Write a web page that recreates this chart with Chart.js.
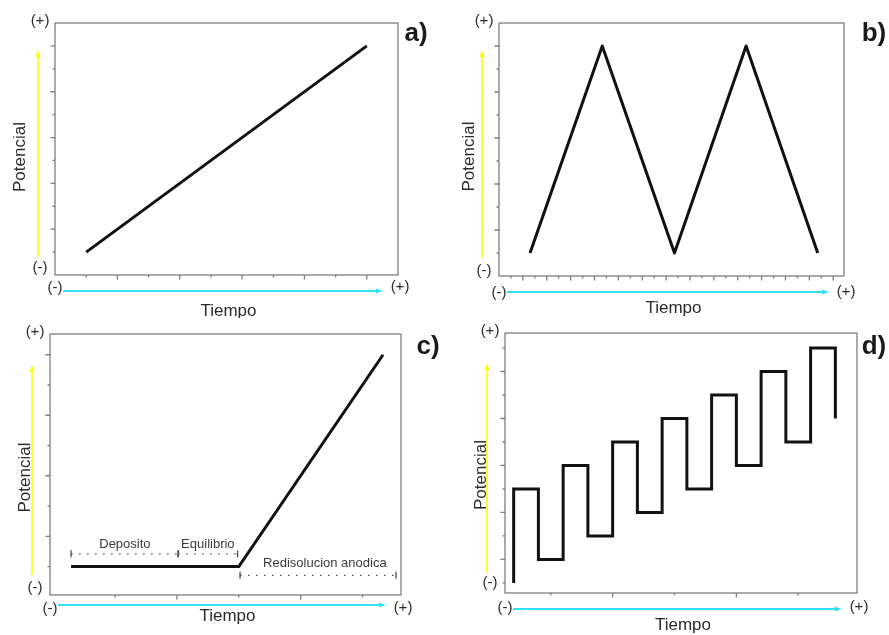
<!DOCTYPE html>
<html>
<head>
<meta charset="utf-8">
<script src="https://cdn.jsdelivr.net/npm/chart.js@4"></script>
<style>
  body { margin: 0; background: #fff; }
  #wrap { position: relative; width: 889px; height: 635px; }
  canvas { position: absolute; }
</style>
</head>
<body>
<div id="wrap">
  <canvas id="chartA" width="444" height="318" style="left:0;top:0"></canvas>
  <canvas id="chartB" width="445" height="318" style="left:444px;top:0"></canvas>
  <canvas id="chartC" width="444" height="317" style="left:0;top:318px"></canvas>
  <canvas id="chartD" width="445" height="317" style="left:444px;top:318px"></canvas>
</div>
<script>
// textos
const ejeX = 'Tiempo';
const ejeY = 'Potencial';
const signoMas = '(+)';
const signoMenos = '(-)';

// a) barrido lineal
const aTiempo = [1, 10];
const aPotencial = [1, 10];
const aXTicks = [1, 2, 3, 4, 5, 6, 7, 8, 9, 10];
const aYTicks = [1, 2, 3, 4, 5, 6, 7, 8, 9, 10];

// b) barrido triangular
const bTiempo = [2.6, 8.65, 14.7, 20.7, 26.7];
const bPotencial = [1, 10, 1, 10, 1];
const bXTicks = [1, 2, 3, 4, 5, 6, 7, 8, 9, 10, 11, 12, 13, 14, 15, 16, 17, 18, 19, 20, 21, 22, 23, 24, 25, 26, 27, 28];
const bYTicks = [1, 2, 3, 4, 5, 6, 7, 8, 9, 10];

// c) redisolucion anodica
const cTiempo = [0.29, 3, 5.33];
const cPotencial = [1, 1, 8];
const cXTicks = [1, 2, 3, 4, 5];
const cYTicks = [1, 2, 3, 4, 5, 6, 7, 8];
const cEtapas = ['Deposito', 'Equilibrio', 'Redisolucion anodica'];
const cEtapaInicio = [0.29, 2.02, 3.02];
const cEtapaFin = [2.02, 2.98, 5.54];
const cEtapaNivel = [1.42, 1.42, 0.71];
const cTextoX = [1.16, 2.5, 4.39];
const cTextoY = [1.74, 1.74, 1.09];

// d) escalones
const dCambios = [1, 2, 3, 4, 5, 6, 7, 8, 9, 10, 11, 12, 13, 14];
const dNiveles = [0, 4, 1, 5, 2, 6, 3, 7, 4, 8, 5, 9, 6, 10, 7];
const dXTicks = [2.5, 5, 7.5, 10, 12.5];
const dYTicks = [0, 1, 2, 3, 4, 5, 6, 7, 8, 9, 10];

const fuente = '"Liberation Sans", Arial, Helvetica, sans-serif';
const gris = '#7d7d7d';

function flecha(ctx, x1, y1, x2, y2, color, w) {
  const ang = Math.atan2(y2 - y1, x2 - x1);
  ctx.strokeStyle = color;
  ctx.fillStyle = color;
  ctx.lineWidth = w;
  ctx.beginPath();
  ctx.moveTo(x1, y1);
  ctx.lineTo(x2 - 5 * Math.cos(ang), y2 - 5 * Math.sin(ang));
  ctx.stroke();
  ctx.beginPath();
  ctx.moveTo(x2, y2);
  ctx.lineTo(x2 - 7 * Math.cos(ang) + 2.5 * Math.sin(ang), y2 - 7 * Math.sin(ang) - 2.5 * Math.cos(ang));
  ctx.lineTo(x2 - 7 * Math.cos(ang) - 2.5 * Math.sin(ang), y2 - 7 * Math.sin(ang) + 2.5 * Math.cos(ang));
  ctx.closePath();
  ctx.fill();
}

// marco, ticks, flechas y textos de cada panel
const decor = {
  id: 'decor',
  afterDraw(chart, args, o) {
    const { ctx, chartArea: a } = chart;
    const x = chart.scales.x, y = chart.scales.y;
    ctx.save();
    ctx.strokeStyle = gris;
    ctx.lineWidth = 1.3;
    ctx.strokeRect(a.left, a.top, a.right - a.left, a.bottom - a.top);

    ctx.beginPath();
    o.xTicks.forEach(function (v, i) {
      const px = x.getPixelForValue(v);
      ctx.moveTo(px, a.bottom);
      ctx.lineTo(px, a.bottom + (i % 2 ? 4.5 : 2.5));
    });
    o.yTicks.forEach(function (v, i) {
      const py = y.getPixelForValue(v);
      ctx.moveTo(a.left, py);
      ctx.lineTo(a.left - (i % 2 ? 4.5 : 2.5), py);
    });
    ctx.stroke();

    // flechas
    flecha(ctx, a.left + o.yArrowX, a.bottom - o.yArrowBot, a.left + o.yArrowX, a.top + o.yArrowTop, '#ffff00', 1.6);
    flecha(ctx, a.left + 8, a.bottom + o.axisGap, a.right - 15, a.bottom + o.axisGap, '#33e0f5', 2);

    ctx.fillStyle = '#2b2b2b';
    ctx.textAlign = 'center';
    ctx.textBaseline = 'middle';
    ctx.font = '15px ' + fuente;
    ctx.fillText(signoMas, a.left - 15, a.top - 2);
    ctx.fillText(signoMenos, a.left - 15, a.bottom - o.menosDy);
    ctx.fillText(signoMenos, a.left, a.bottom + o.signDy);
    ctx.fillText(signoMas, a.right + 2, a.bottom + o.signDy - 1);

    ctx.font = '17px ' + fuente;
    ctx.fillText(ejeX, (a.left + a.right) / 2 + 2, a.bottom + o.tiempoDy);
    ctx.save();
    ctx.translate(a.left + o.potX, (a.top + a.bottom) / 2 + o.potDy);
    ctx.rotate(-Math.PI / 2);
    ctx.fillText(ejeY, 0, 0);
    ctx.restore();

    ctx.font = 'bold 26px ' + fuente;
    ctx.fillStyle = '#1a1a1a';
    ctx.fillText(o.letra, o.letraX, o.letraY);

    if (o.etapas) {
      ctx.font = '13px ' + fuente;
      ctx.fillStyle = '#3a3a3a';
      o.etapas.forEach(function (t, i) {
        ctx.fillText(t, x.getPixelForValue(cTextoX[i]), y.getPixelForValue(cTextoY[i]));
      });
    }
    ctx.restore();
  }
};

function puntos(xs, ys) {
  return xs.map(function (v, i) { return { x: v, y: ys[i] }; });
}

function linea(data, join) {
  return {
    data: data,
    borderColor: '#111',
    borderWidth: 3,
    borderJoinStyle: join || 'miter',
    pointRadius: 0,
    fill: false
  };
}

function panel(id, datasets, xr, yr, padding, deco) {
  new Chart(document.getElementById(id), {
    type: 'line',
    data: { datasets: datasets },
    options: {
      responsive: false,
      animation: false,
      layout: { padding: padding },
      plugins: { legend: { display: false }, tooltip: { enabled: false }, decor: deco },
      scales: {
        x: { type: 'linear', display: false, min: xr[0], max: xr[1] },
        y: { type: 'linear', display: false, min: yr[0], max: yr[1] }
      }
    },
    plugins: [decor]
  });
}

// a)
panel('chartA', [linea(puntos(aTiempo, aPotencial))], [0, 11], [0, 11],
  { left: 55, top: 23, right: 46, bottom: 43 },
  { xTicks: aXTicks, yTicks: aYTicks, potX: -35, potDy: 8, yArrowX: -17, yArrowBot: 18, yArrowTop: 27,
    axisGap: 16, signDy: 13, menosDy: 7, tiempoDy: 36, letra: 'a)', letraX: 416, letraY: 34 });

// b)
panel('chartB', [linea(puntos(bTiempo, bPotencial), 'round')], [0, 28.9], [0, 11],
  { left: 55, top: 23, right: 45, bottom: 42 },
  { xTicks: bXTicks, yTicks: bYTicks, potX: -30, potDy: 7, yArrowX: -17, yArrowBot: 18, yArrowTop: 27,
    axisGap: 16, signDy: 17, menosDy: 5, tiempoDy: 32, letra: 'b)', letraX: 430, letraY: 34 });

// c)
const cSets = [linea(puntos(cTiempo, cPotencial))];
cEtapas.forEach(function (t, i) {
  cSets.push({
    data: [{ x: cEtapaInicio[i], y: cEtapaNivel[i] }, { x: cEtapaFin[i], y: cEtapaNivel[i] }],
    borderColor: '#4a4a4a',
    borderWidth: 1.4,
    borderDash: [1.5, 6.5],
    pointStyle: 'line',
    pointRotation: 90,
    pointRadius: 3.5,
    pointBorderColor: '#4a4a4a',
    pointBorderWidth: 1.3,
    fill: false
  });
});
panel('chartC', cSets, [-0.05, 5.62], [0.06, 8.685],
  { left: 50, top: 16, right: 43, bottom: 40 },
  { xTicks: cXTicks, yTicks: cYTicks, potX: -25, potDy: 13, yArrowX: -18, yArrowBot: 20, yArrowTop: 31,
    axisGap: 10, signDy: 14, menosDy: 7, tiempoDy: 21, letra: 'c)', letraX: 428, letraY: 29, etapas: cEtapas });

// d)
const dTiempo = [dCambios[0]];
const dPotencial = [dNiveles[0]];
dCambios.forEach(function (t, i) {
  dTiempo.push(t);
  dPotencial.push(dNiveles[i + 1]);
  if (i + 1 < dCambios.length) {
    dTiempo.push(dCambios[i + 1]);
    dPotencial.push(dNiveles[i + 1]);
  }
});
panel('chartD', [linea(puntos(dTiempo, dPotencial))], [0.65, 14.875], [-0.43, 10.64],
  { left: 61, top: 15, right: 32, bottom: 42 },
  { xTicks: dXTicks, yTicks: dYTicks, potX: -24, potDy: 12, yArrowX: -18, yArrowBot: 20, yArrowTop: 30,
    axisGap: 16, signDy: 15, menosDy: 10, tiempoDy: 32, letra: 'd)', letraX: 430, letraY: 29 });
</script>
</body>
</html>
